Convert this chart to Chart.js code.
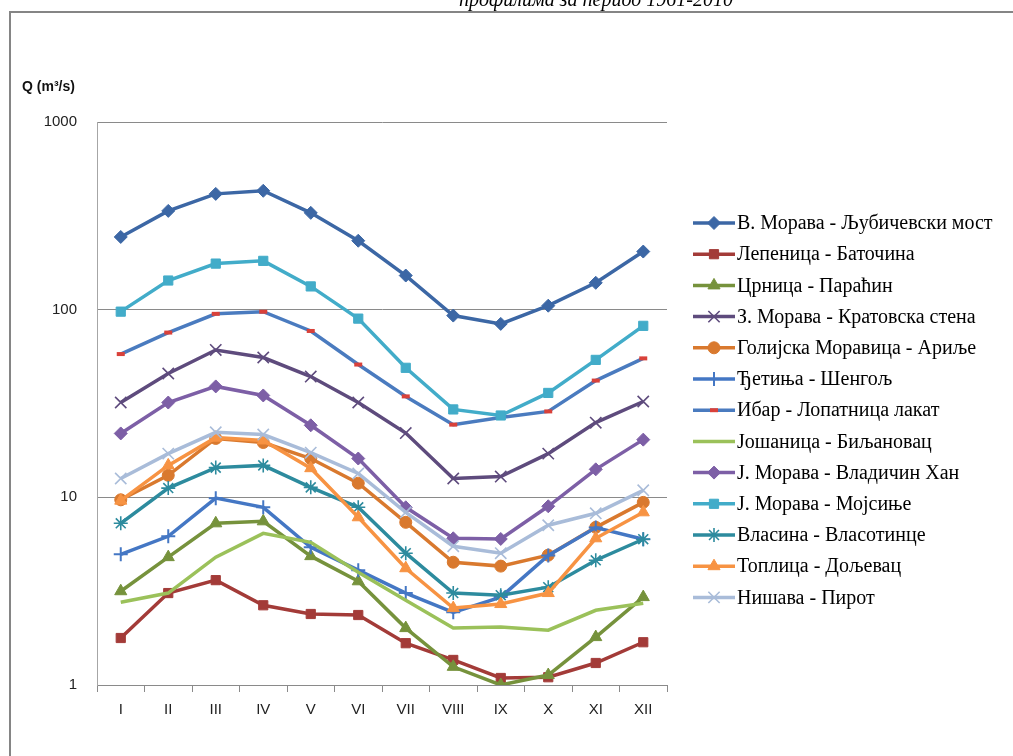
<!DOCTYPE html>
<html>
<head>
<meta charset="utf-8">
<script src="https://cdn.jsdelivr.net/npm/chart.js@4.4.1/dist/chart.umd.min.js"></script>
<style>
html,body{margin:0;padding:0;background:#fff;overflow:hidden;width:1013px;height:756px}
#frame{position:absolute;left:9px;top:11px;width:1100px;height:900px;border-left:2px solid #858585;border-top:2px solid #858585}
#wrap{position:absolute;left:0;top:0;width:1013px;height:756px}
</style>
</head>
<body>
<div id="frame"></div>
<div id="wrap"><canvas id="c" width="1013" height="756"></canvas></div>
<script>
// ---- data ----
const months = ['I','II','III','IV','V','VI','VII','VIII','IX','X','XI','XII'];
const yTickValues = [1, 10, 100, 1000];
const yTickLabels = ['1', '10', '100', '1000'];
const titleText = 'профилима за период 1961-2010';
const yAxisLabel = 'Q (m³/s)';

const seriesNames = [
  'В. Морава - Љубичевски мост',
  'Лепеница - Баточина',
  'Црница - Параћин',
  'З. Морава - Кратовска стена',
  'Голијска Моравица - Ариље',
  'Ђетиња - Шенгољ',
  'Ибар - Лопатница лакат',
  'Јошаница - Биљановац',
  'Ј. Морава - Владичин Хан',
  'Ј. Морава - Мојсиње',
  'Власина - Власотинце',
  'Топлица - Дољевац',
  'Нишава - Пирот'
];

const vMorava    = [244, 336, 414, 430, 328, 233, 152, 93, 84, 105, 139, 204];
const lepenica   = [1.78, 3.09, 3.62, 2.66, 2.39, 2.36, 1.67, 1.36, 1.09, 1.10, 1.31, 1.69];
const crnica     = [3.16, 4.8, 7.27, 7.45, 4.86, 3.57, 2.01, 1.25, 1.0, 1.13, 1.8, 2.94];
const zMorava    = [32, 45.7, 61, 55.6, 44, 32, 22, 12.6, 12.9, 17.1, 25, 32.4];
const golijska   = [9.7, 13.1, 20.6, 19.6, 16.1, 11.9, 7.36, 4.51, 4.3, 4.92, 6.92, 9.4];
const cetinja    = [4.97, 6.2, 9.9, 8.85, 5.42, 4.09, 3.09, 2.44, 2.94, 4.9, 6.9, 5.98];
const ibar       = [58, 75.5, 95, 97.5, 77, 51, 34.5, 24.4, 26.6, 28.7, 41.9, 55];
const josanica   = [2.76, 3.09, 4.8, 6.43, 5.76, 3.99, 2.83, 2.01, 2.04, 1.96, 2.5, 2.73];
const jmVladicin = [21.9, 32, 39, 34.9, 24.2, 16.1, 8.85, 6.05, 6.0, 8.96, 14.1, 20.3];
const jmMojsinje = [97.6, 143, 176, 182, 133, 89.6, 49, 29.4, 27.3, 36, 54, 82];
const vlasina    = [7.27, 11.2, 14.4, 14.8, 11.3, 8.85, 5.04, 3.09, 3.01, 3.32, 4.62, 5.98];
const toplica    = [9.6, 14.8, 20.8, 20.1, 14.3, 7.83, 4.19, 2.57, 2.7, 3.09, 6.05, 8.32];
const nisava     = [12.6, 17.1, 22.2, 21.6, 17.3, 13.4, 8.32, 5.49, 5.04, 7.1, 8.22, 10.9];

const seriesValues = [vMorava, lepenica, crnica, zMorava, golijska, cetinja, ibar,
  josanica, jmVladicin, jmMojsinje, vlasina, toplica, nisava];

// ---- styles ----
const lineColors = ['#3C67A5','#A33B38','#76923C','#5E4B7D','#D9792E','#4477C4','#4A7BBF',
  '#9BC15A','#7D5FA6','#42ACC9','#2D8B9E','#F79343','#A9BCD9'];
const markerColors = ['#3C67A5','#A33B38','#76923C','#5E4B7D','#D9792E','#4477C4','#D9413A',
  '#9BC15A','#7D5FA6','#42ACC9','#2D8B9E','#F79343','#A9BCD9'];
const markerStyles = ['rectRot','rect','triangle','crossRot','circle','cross','line',
  'line','rectRot','rect','star','triangle','crossRot'];
const markerRadius = [6.5, 6.5, 7, 8, 6, 7, 4, 0, 6.5, 6.5, 7, 7, 8];
const markerBorder = [1, 1, 1, 1.6, 1, 2, 4, 1, 1, 1, 1.6, 1, 1.6];

const datasets = seriesNames.map((name, i) => ({
  label: name,
  data: seriesValues[i],
  borderColor: lineColors[i],
  backgroundColor: lineColors[i],
  borderWidth: 3.5,
  tension: 0,
  fill: false,
  pointStyle: markerStyles[i],
  pointRadius: markerRadius[i],
  pointHoverRadius: markerRadius[i],
  pointBackgroundColor: markerColors[i],
  pointBorderColor: markerColors[i],
  pointBorderWidth: markerBorder[i],
  order: seriesNames.length - 1 - i
}));

function drawMarker(ctx, i, x, y) {
  if (markerRadius[i] <= 0) return;
  ctx.save();
  ctx.fillStyle = markerColors[i];
  ctx.strokeStyle = markerColors[i];
  ctx.lineWidth = markerBorder[i];
  Chart.helpers.drawPoint(ctx, {pointStyle: markerStyles[i], radius: markerRadius[i], rotation: 0, borderWidth: markerBorder[i]}, x, y);
  ctx.restore();
}

const extrasPlugin = {
  id: 'extras',
  afterDraw(chart) {
    const ctx = chart.ctx;
    ctx.save();
    // title (cut at top)
    ctx.fillStyle = '#000';
    ctx.font = 'italic 20px "Liberation Serif", "DejaVu Serif", serif';
    ctx.textAlign = 'center';
    ctx.textBaseline = 'alphabetic';
    ctx.fillText(titleText, 596, 5.5);
    // y axis label
    ctx.font = 'bold 14px "Liberation Sans Narrow", "Liberation Sans", sans-serif';
    ctx.textAlign = 'left';
    ctx.fillStyle = '#111';
    ctx.fillText(yAxisLabel, 22, 91);
    // legend
    const x0 = 693, x1 = 735, y0 = 223, dy = 31.2;
    ctx.font = '20px "Liberation Serif", "DejaVu Serif", serif';
    ctx.textBaseline = 'middle';
    for (let i = 0; i < seriesNames.length; i++) {
      const y = y0 + i * dy;
      ctx.strokeStyle = lineColors[i];
      ctx.lineWidth = 3.5;
      ctx.beginPath();
      ctx.moveTo(x0, y);
      ctx.lineTo(x1, y);
      ctx.stroke();
      drawMarker(ctx, i, (x0 + x1) / 2, y);
      ctx.fillStyle = '#000';
      ctx.textAlign = 'left';
      ctx.fillText(seriesNames[i], x1 + 2, y + 1);
    }
    ctx.restore();
  }
};

new Chart(document.getElementById('c'), {
  type: 'line',
  data: { labels: months, datasets: datasets },
  plugins: [extrasPlugin],
  options: {
    responsive: false,
    animation: false,
    devicePixelRatio: 1,
    layout: { padding: { left: 0, top: 122, right: 346, bottom: 31 } },
    plugins: { legend: { display: false }, tooltip: { enabled: false }, title: { display: false } },
    scales: {
      x: {
        type: 'category',
        offset: true,
        grid: { offset: true, drawOnChartArea: false, drawTicks: true, tickLength: 7, color: '#8a8a8a', lineWidth: 1 },
        border: { display: true, color: '#8a8a8a', width: 1 },
        ticks: { color: '#222', font: { family: '"Liberation Sans", sans-serif', size: 15 }, padding: 9, maxRotation: 0, autoSkip: false },
        afterFit(scale) { scale.height = 40; }
      },
      y: {
        type: 'logarithmic',
        min: 1,
        max: 1000,
        afterBuildTicks(axis) { axis.ticks = yTickValues.map(v => ({ value: v })); },
        grid: { drawTicks: false, color: '#8a8a8a', lineWidth: 1 },
        border: { display: true, color: '#a6a6a6', width: 1 },
        ticks: {
          color: '#222',
          font: { family: '"Liberation Sans", sans-serif', size: 15 },
          padding: 20,
          callback: (value) => { const k = yTickValues.indexOf(value); return k >= 0 ? yTickLabels[k] : ''; }
        },
        afterFit(scale) { scale.width = 97; }
      }
    }
  }
});
</script>
</body>
</html>
